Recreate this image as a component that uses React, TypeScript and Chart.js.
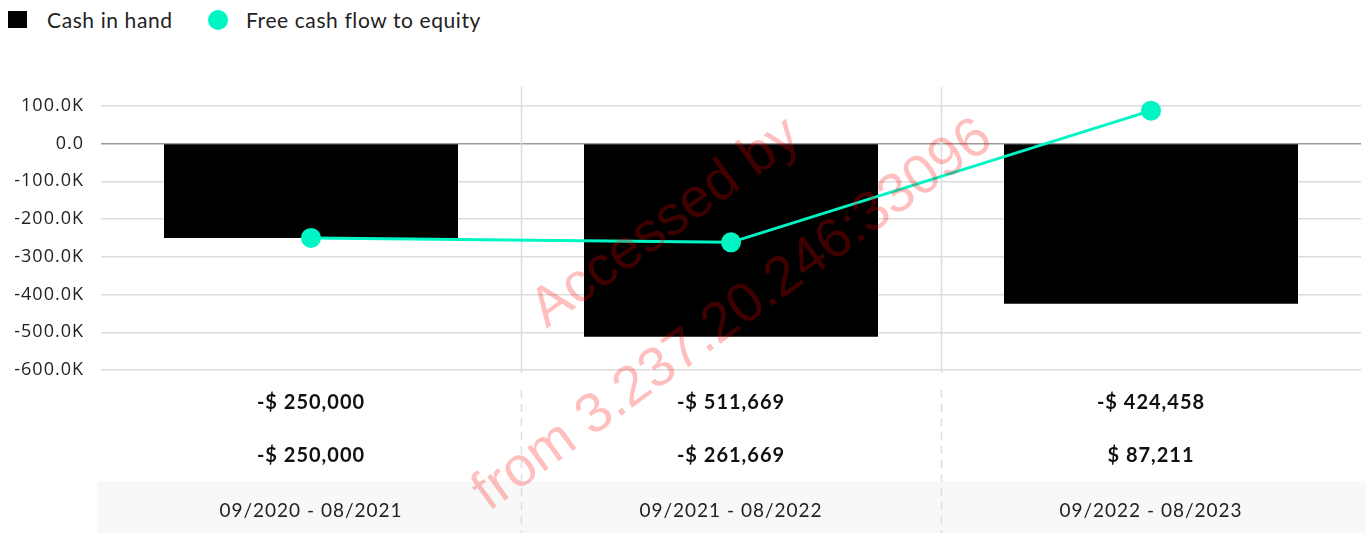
import React, { useEffect, useRef } from "react";
import { Chart, registerables } from "chart.js";

Chart.register(...registerables);

const periods = ["09/2020 - 08/2021", "09/2021 - 08/2022", "09/2022 - 08/2023"];
const cashInHand = [-250000, -511669, -424458];
const freeCashFlowToEquity = [-250000, -261669, 87211];
const seriesNames = ["Cash in hand", "Free cash flow to equity"];
const yTickValues = [-600000, -500000, -400000, -300000, -200000, -100000, 0, 100000];
const watermarkLines = ["Accessed by", "from 3.237.20.246:33096"];

const TEAL = "#00F5C4";
const LABEL_FONT = "Lato, 'Noto Sans', sans-serif";

const fmtMoney = (v: number) =>
  (v < 0 ? "-" : "") + "$ " + Math.abs(v).toLocaleString("en-US");

const fmtTick = (v: number) => (v === 0 ? "0.0" : (v / 1000).toFixed(1) + "K");

const decorPlugin = {
  id: "decor",
  beforeDraw(chart: any) {
    const { ctx, chartArea, width } = chart;
    ctx.save();
    ctx.fillStyle = "#f8f8f8";
    ctx.fillRect(chartArea.left - 4, chartArea.bottom + 111, width, 60);
    ctx.restore();
    // wider text spacing for axis labels (approximates the original wide font)
    (ctx as any).letterSpacing = "1px";
  },
  beforeDatasetsDraw(chart: any) {
    const { ctx, chartArea, height, scales } = chart;
    const x = scales.x;
    const n = periods.length;
    ctx.save();
    for (let i = 1; i < n; i++) {
      const px = Math.round((x.getPixelForValue(i - 1) + x.getPixelForValue(i)) / 2) + 0.5;
      ctx.strokeStyle = "#dedede";
      ctx.lineWidth = 1.5;
      ctx.setLineDash([]);
      ctx.beginPath();
      ctx.moveTo(px, chartArea.top);
      ctx.lineTo(px, chartArea.bottom + 3);
      ctx.stroke();
      ctx.setLineDash([8, 6]);
      ctx.beginPath();
      ctx.moveTo(px, chartArea.bottom + 20);
      ctx.lineTo(px, height);
      ctx.stroke();
    }
    ctx.restore();
  },
  afterDraw(chart: any) {
    const { ctx, chartArea, scales } = chart;
    const x = scales.x;
    ctx.save();
    (ctx as any).letterSpacing = "1px";
    ctx.font = "bold 20px " + LABEL_FONT;
    ctx.fillStyle = "#111";
    ctx.textAlign = "center";
    ctx.textBaseline = "middle";
    for (let i = 0; i < periods.length; i++) {
      const px = x.getPixelForValue(i);
      ctx.fillText(fmtMoney(cashInHand[i]), px, chartArea.bottom + 33);
      ctx.fillText(fmtMoney(freeCashFlowToEquity[i]), px, chartArea.bottom + 86);
    }
    ctx.restore();

    // watermark
    ctx.save();
    (ctx as any).letterSpacing = "0px";
    ctx.translate(742, 328);
    ctx.rotate((-36 * Math.PI) / 180);
    ctx.font = "56px 'Liberation Sans', Arial, sans-serif";
    ctx.fillStyle = "rgba(255, 0, 0, 0.25)";
    ctx.textAlign = "center";
    ctx.textBaseline = "alphabetic";
    ctx.fillText(watermarkLines[0], 0, -114);
    ctx.fillText(watermarkLines[1], 0, 0);
    ctx.restore();
  },
};

export default function App() {
  const canvasRef = useRef<HTMLCanvasElement | null>(null);

  useEffect(() => {
    if (!canvasRef.current) return;
    const chart = new Chart(canvasRef.current, {
      type: "bar",
      data: {
        labels: periods,
        datasets: [
          {
            type: "line",
            label: seriesNames[1],
            data: freeCashFlowToEquity,
            borderColor: TEAL,
            backgroundColor: TEAL,
            borderWidth: 3,
            pointRadius: 10,
            pointHoverRadius: 10,
            pointBorderWidth: 0,
            pointBackgroundColor: TEAL,
            tension: 0,
            order: 0,
          } as any,
          {
            type: "bar",
            label: seriesNames[0],
            data: cashInHand,
            backgroundColor: "#000",
            barPercentage: 0.7,
            categoryPercentage: 1,
            order: 1,
          },
        ],
      },
      options: {
        animation: false,
        responsive: true,
        maintainAspectRatio: false,
        layout: { autoPadding: false, padding: { top: 87, right: 5, left: 0, bottom: 0 } },
        plugins: {
          legend: { display: false },
          tooltip: { enabled: false },
        },
        scales: {
          x: {
            grid: { display: false, drawTicks: false },
            border: { display: false },
            ticks: {
              color: "#222",
              font: { family: LABEL_FONT, size: 19 },
              padding: 129,
              maxRotation: 0,
              autoSkip: false,
            },
            afterFit: (scale: any) => {
              scale.height = 163;
              scale.paddingLeft = 0;
              scale.paddingRight = 0;
            },
          },
          y: {
            min: -600000,
            max: 150000,
            border: { display: false },
            grid: {
              drawTicks: false,
              color: (ctx: any) => (ctx.tick && ctx.tick.value === 0 ? "#9a9a9a" : "#dcdcdc"),
              lineWidth: 1.5,
            },
            ticks: {
              color: "#222",
              padding: 17,
              font: { family: "'Open Sans', sans-serif", size: 18 },
              callback: (v: any) => fmtTick(Number(v)),
            },
            afterBuildTicks: (scale: any) => {
              scale.ticks = yTickValues.map((value) => ({ value }));
            },
            afterFit: (scale: any) => {
              scale.width = 101;
            },
          },
        },
      },
      plugins: [decorPlugin],
    });
    return () => chart.destroy();
  }, []);

  const legendText: React.CSSProperties = {
    position: "absolute",
    top: 8,
    fontSize: 21,
    lineHeight: "24px",
    letterSpacing: "0.6px",
    color: "#222",
    whiteSpace: "nowrap",
  };

  return (
    <div
      style={{
        position: "fixed",
        left: 0,
        top: 0,
        width: 1366,
        height: 533,
        background: "#fff",
        fontFamily: LABEL_FONT,
      }}
    >
      <div style={{ position: "absolute", left: 8, top: 11, width: 19, height: 17, background: "#000" }} />
      <div style={{ ...legendText, left: 47 }}>{seriesNames[0]}</div>
      <div
        style={{
          position: "absolute",
          left: 208,
          top: 10,
          width: 20,
          height: 20,
          borderRadius: "50%",
          background: TEAL,
        }}
      />
      <div style={{ ...legendText, left: 246 }}>{seriesNames[1]}</div>
      <canvas ref={canvasRef} style={{ position: "absolute", left: 0, top: 0, width: 1366, height: 533 }} />
    </div>
  );
}
